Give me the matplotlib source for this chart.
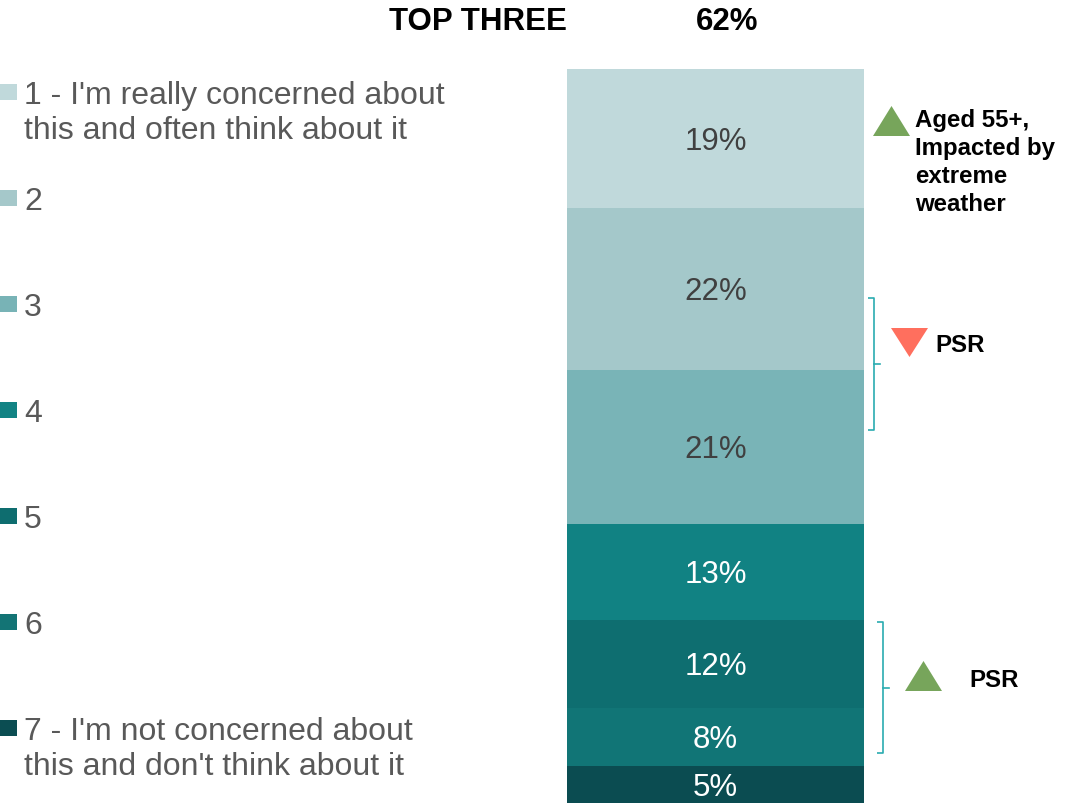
import matplotlib.pyplot as plt
from matplotlib.patches import Rectangle, Polygon
from matplotlib.transforms import blended_transform_factory

plt.rcParams['font.family'] = ['Liberation Sans', 'DejaVu Sans']

# concern scale, 1 = really concerned ... 7 = not concerned
levels = ["1 - I'm really concerned about\nthis and often think about it",
          "2", "3", "4", "5", "6",
          "7 - I'm not concerned about\nthis and don't think about it"]
shares = [19, 22, 21, 13, 12, 8, 5]
bar_colors = ['#C0D9DB', '#A4C8CA', '#79B4B7', '#118283', '#0E6E70', '#117576', '#0B4C51']
legend_colors = ['#C0D9DB', '#A5C8CA', '#78B3B6', '#128384', '#0E6D6F', '#137475', '#0B4D52']
label_colors = ['#404040', '#404040', '#404040', 'white', 'white', 'white', 'white']
top_three = sum(shares[:3])

W, H = 1069, 804
fig = plt.figure(figsize=(W / 100, H / 100), dpi=100)

# overlay in pixel coordinates for legend and notes
ov = fig.add_axes([0, 0, 1, 1])
ov.set_xlim(0, W)
ov.set_ylim(H, 0)
ov.axis('off')

# the stacked bar
ax = fig.add_axes([567 / W, 0, (864 - 567) / W, (804 - 70) / H])
bottom = 0
for val, col, tc in zip(shares, bar_colors, label_colors):
    ax.bar(0, val, bottom=bottom, width=1, color=col, edgecolor='none')
    ax.text(0, bottom + val / 2 + 0.3, f'{val}%', ha='center', va='center',
            fontsize=22.5, color=tc)
    bottom += val
ax.set_xlim(-0.5, 0.5)
ax.set_ylim(100, 0)
ax.axis('off')

# header
ov.text(567, 22, 'TOP THREE', ha='right', va='center', fontsize=22.5,
        fontweight='bold', color='black')
ov.text(727, 22, f'{top_three}%', ha='center', va='center', fontsize=22.5,
        fontweight='bold', color='black')

# legend
for i, (lab, col) in enumerate(zip(levels, legend_colors)):
    yc = 93 + i * 106
    ov.add_patch(Rectangle((0, yc - 8), 17, 16, color=col, lw=0))
    ov.text(24, yc - 12, lab, ha='left', va='top', fontsize=23,
            color='#595959', linespacing=1.2)

# brackets grouping segments, drawn in bar data units
tr = blended_transform_factory(ov.transData, ax.transData)
bracket_col = '#2AACB0'


def bracket(x, y0, y1, ym):
    ax.plot([x - 6, x, x, x - 6], [y0, y0, y1, y1], color=bracket_col,
            lw=1.2, transform=tr, clip_on=False, solid_capstyle='butt')
    ax.plot([x, x + 6], [ym, ym], color=bracket_col, lw=1.2,
            transform=tr, clip_on=False)


bracket(874, 31.2, 49.2, 40.2)
bracket(883, 75.3, 93.2, 84.3)


def tri(x0, x1, y_base, y_tip, col):
    ov.add_patch(Polygon([(x0, y_base), (x1, y_base), ((x0 + x1) / 2, y_tip)],
                         closed=True, color=col, lw=0))


# significance markers
green = '#77A55B'
coral = '#FF6F5E'
tri(873, 910, 137, 107, green)
ov.text(915, 109, 'Aged 55+,\nImpacted by\nextreme\nweather', ha='left',
        va='top', fontsize=17.3, fontweight='bold', color='black',
        linespacing=1.28)

tri(891, 928, 329, 358, coral)
ov.text(935, 346, 'PSR', ha='left', va='center', fontsize=17.3,
        fontweight='bold', color='black')

tri(905, 942, 692, 662, green)
ov.text(969, 681, 'PSR', ha='left', va='center', fontsize=17.3,
        fontweight='bold', color='black')

fig.savefig('out.png', dpi=100)
